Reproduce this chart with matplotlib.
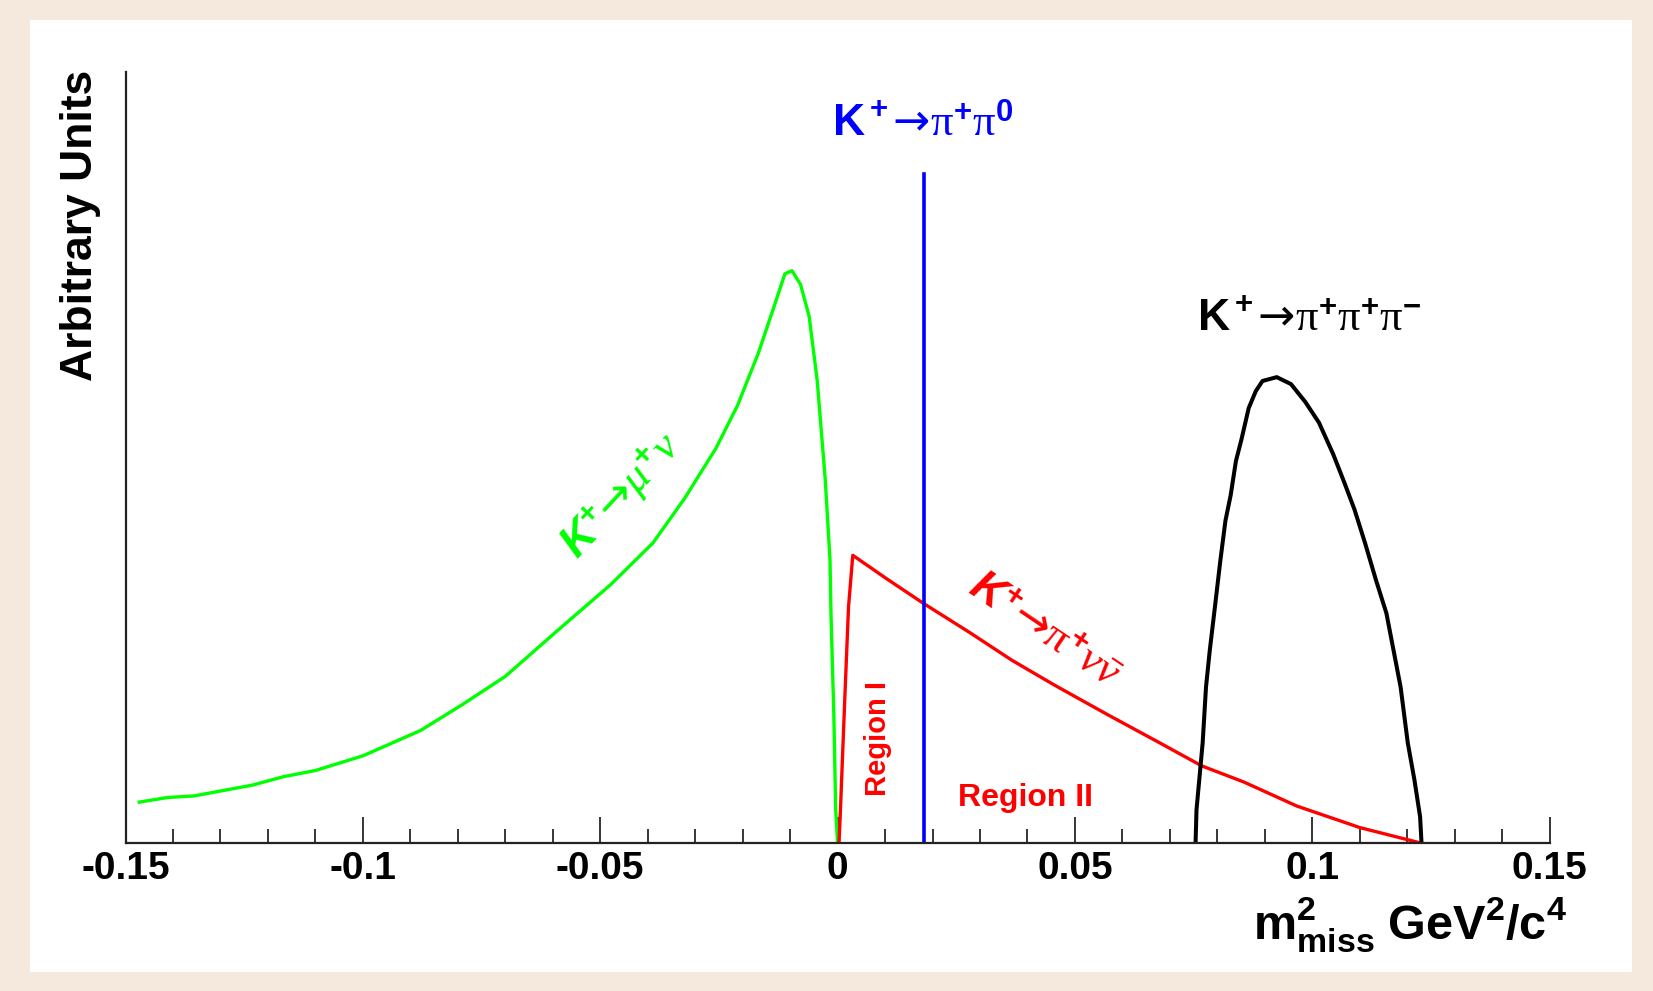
import matplotlib
matplotlib.use("Agg")
import matplotlib.pyplot as plt
from matplotlib.patches import Rectangle

plt.rcParams['font.family'] = ['Liberation Sans', 'DejaVu Sans']
plt.rcParams['mathtext.fontset'] = 'custom'
plt.rcParams['mathtext.rm'] = 'Liberation Serif'
plt.rcParams['mathtext.it'] = 'Liberation Serif:italic'
plt.rcParams['mathtext.bf'] = 'Liberation Sans:bold'
plt.rcParams['mathtext.bfit'] = 'Liberation Sans:italic:bold'
plt.rcParams['mathtext.sf'] = 'DejaVu Sans'
plt.rcParams['mathtext.default'] = 'rm'

# K+ -> mu+ nu
green_x = [-0.1471, -0.1411, -0.1356, -0.1233, -0.1167, -0.1100, -0.1000, -0.0878,
           -0.0789, -0.0700, -0.0589, -0.0478, -0.0389, -0.0322, -0.0256, -0.0211,
           -0.0167, -0.0133, -0.0111, -0.0096, -0.0078, -0.0060, -0.0043, -0.0026,
           -0.0016, -0.0014, -0.0008, -0.0004, 0.0]
green_y = [0.053, 0.059, 0.061, 0.075, 0.086, 0.094, 0.113, 0.146,
           0.180, 0.216, 0.276, 0.335, 0.389, 0.447, 0.512, 0.567,
           0.635, 0.697, 0.738, 0.742, 0.724, 0.683, 0.600, 0.471,
           0.367, 0.298, 0.168, 0.043, 0.0]

# K+ -> pi+ nu nubar
red_x = [0.0003, 0.0006, 0.0015, 0.0023, 0.0032, 0.0100, 0.0180, 0.0278, 0.0367,
         0.0456, 0.0567, 0.0678, 0.0767, 0.0856, 0.0967, 0.1100, 0.1228]
red_y = [0.0, 0.043, 0.185, 0.306, 0.373, 0.344, 0.311, 0.273, 0.237,
         0.205, 0.167, 0.130, 0.100, 0.079, 0.048, 0.020, 0.0]

# K+ -> pi+ pi+ pi-
black_x = [0.0754, 0.0756, 0.0769, 0.0776, 0.0784, 0.0795, 0.0806, 0.0817, 0.0828,
           0.0839, 0.0851, 0.0866, 0.0881, 0.0895, 0.0925, 0.0955, 0.0985, 0.1014,
           0.1044, 0.1067, 0.1089, 0.1111, 0.1134, 0.1156, 0.1171, 0.1186, 0.1201,
           0.1215, 0.1227, 0.1230]
black_y = [0.0, 0.043, 0.130, 0.202, 0.250, 0.307, 0.365, 0.418, 0.451,
           0.495, 0.524, 0.564, 0.586, 0.599, 0.604, 0.595, 0.572, 0.545,
           0.504, 0.468, 0.432, 0.389, 0.341, 0.298, 0.250, 0.202, 0.130,
           0.082, 0.034, 0.0]

# K+ -> pi+ pi0 (delta peak)
pi0_x = 0.0182
pi0_top = 0.867

tick_vals = [-0.15, -0.1, -0.05, 0, 0.05, 0.1, 0.15]
tick_labels = ['-0.15', '-0.1', '-0.05', '0', '0.05', '0.1', '0.15']
minor_vals = [i / 100 for i in range(-15, 16)]

W, H = 1653, 991
fig = plt.figure(figsize=(W / 100, H / 100), dpi=100)
fig.patch.set_facecolor('#f5e9de')
fig.patches.append(Rectangle((30 / W, 1 - 972 / H), 1602 / W, 952 / H,
                             transform=fig.transFigure, facecolor='white',
                             edgecolor='none', zorder=-5))

ax = fig.add_axes([125.5 / W, 148 / H, 1424.2 / W, 771.3 / H])
ax.set_zorder(2)
ax.set_facecolor('none')
ax.set_xlim(-0.15, 0.15)
ax.set_ylim(0, 1)

ax.plot(green_x, green_y, color='#00ff00', lw=2.4, solid_joinstyle='round')
ax.plot(red_x, red_y, color='#ff0000', lw=2.4, solid_joinstyle='round')
ax.plot(black_x, black_y, color='black', lw=2.9, solid_joinstyle='round')
ax.plot([pi0_x, pi0_x], [0, pi0_top], color='#0000ff', lw=2.6)

for s in ['top', 'right']:
    ax.spines[s].set_visible(False)
for s in ['left', 'bottom']:
    ax.spines[s].set_linewidth(1.6)
    ax.spines[s].set_color('#222222')
ax.set_yticks([])
ax.set_xticks(tick_vals)
ax.set_xticklabels(tick_labels, fontsize=28, fontweight='bold')
ax.set_xticks(minor_vals, minor=True)
ax.tick_params(axis='x', which='major', direction='in', length=19, width=1.1, pad=6)
ax.tick_params(axis='x', which='minor', direction='in', length=10, width=1.1)

arrow = r'\mathsf{→}'

# labels on the curves
ax.text(0.0178, 0.905, r'$\mathbf{K^+}' + arrow + r'\pi^{\mathbf{+}}\pi^{\mathbf{0}}$',
        color='#0000ff', fontsize=32, ha='center', va='bottom')
ax.text(0.0993, 0.652, r'$\mathbf{K^+}' + arrow + r'\pi^{\mathbf{+}}\pi^{\mathbf{+}}\pi^{\mathbf{-}}$',
        color='black', fontsize=32, ha='center', va='bottom')
ax.text(-0.0455, 0.45, r'$\mathbfit{K}^{\mathbf{+}}' + arrow + r'\mathit{\mu}^{\mathbf{+}}\mathit{\nu}$',
        color='#00ff00', fontsize=32, ha='center', va='center', rotation=47,
        rotation_mode='anchor')
ax.text(0.0435, 0.275, r'$\mathbfit{K}^{\mathbf{+}}' + arrow + r'\pi^{\mathbf{+}}\mathit{\nu}\bar{\mathit{\nu}}$',
        color='#ff0000', fontsize=32, ha='center', va='center', rotation=-34,
        rotation_mode='anchor')
ax.text(0.0086, 0.135, 'Region I', color='#ff0000', fontsize=21, fontweight='bold',
        rotation=90, ha='center', va='center')
ax.text(0.0395, 0.058, 'Region II', color='#ff0000', fontsize=23, fontweight='bold',
        ha='center', va='center')

fig.text(1567 / W, 1 - 939 / H, r'$\mathbf{m^2_{miss}\ GeV^2/c^4}$',
         fontsize=35, ha='right', va='baseline')
fig.text(81 / W, 1 - 70 / H, 'Arbitrary Units', fontsize=32, fontweight='bold',
         rotation=90, ha='center', va='top')

fig.savefig('out.png', dpi=100, facecolor=fig.get_facecolor())
